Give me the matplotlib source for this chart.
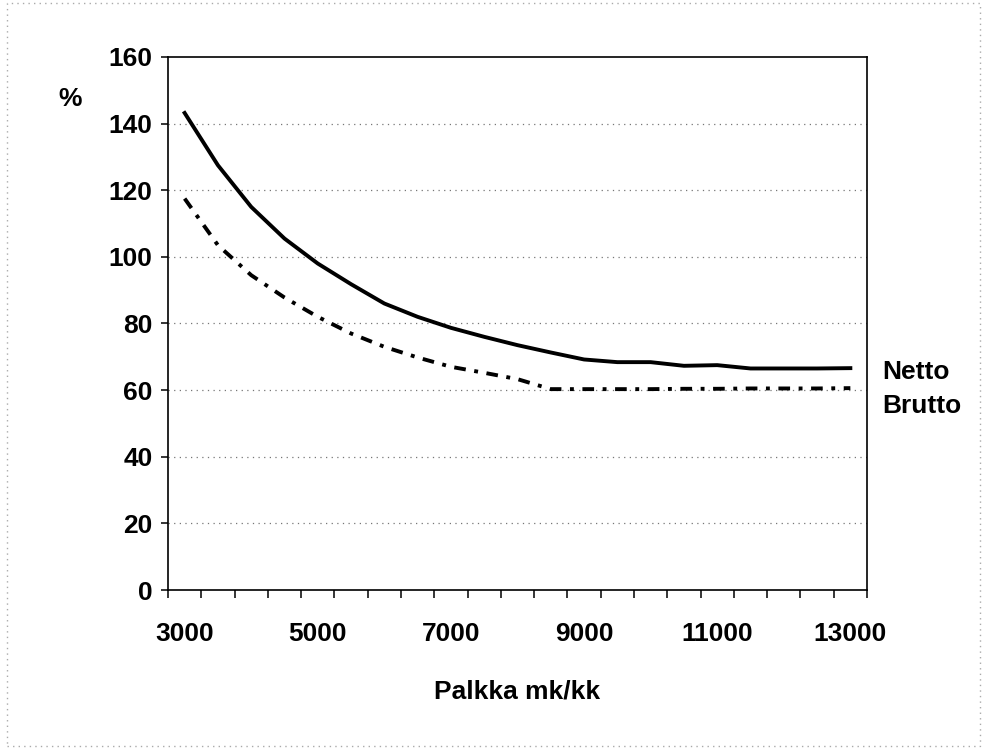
import matplotlib
matplotlib.use("Agg")
import matplotlib.pyplot as plt
from matplotlib.patches import Rectangle

# ===== DATA =====
palkka = [3000, 3500, 4000, 4500, 5000, 5500, 6000, 6500, 7000, 7500, 8000,
          8500, 9000, 9500, 10000, 10500, 11000, 11500, 12000, 12500, 13000]
netto = [143.2, 127.5, 115.0, 105.5, 98.0, 91.8, 86.0, 82.0, 78.7, 76.0, 73.5,
         71.3, 69.2, 68.4, 68.4, 67.3, 67.5, 66.5, 66.5, 66.5, 66.6]
brutto = [117.5, 103.5, 94.5, 87.8, 82.0, 77.0, 73.0, 69.8, 67.0, 65.2, 63.3,
          60.3, 60.3, 60.3, 60.3, 60.4, 60.4, 60.5, 60.5, 60.5, 60.6]
x_labels = [3000, 5000, 7000, 9000, 11000, 13000]
y_ticks = [0, 20, 40, 60, 80, 100, 120, 140, 160]

plt.rcParams['font.family'] = ['Liberation Sans', 'DejaVu Sans']
plt.rcParams['font.weight'] = 'bold'
FS = 19

fig = plt.figure(figsize=(9.84, 7.52), dpi=100)
ax = fig.add_axes([168 / 984, 1 - 590 / 752, 699 / 984, 533 / 752])

# category axis: each salary step is one slot of width 500
step = 500
ax.set_xlim(palkka[0] - step / 2, palkka[-1] + step / 2)
ax.set_ylim(0, 160)

ax.plot(palkka, netto, color='black', lw=2.8, solid_joinstyle='round', zorder=3)
ax.plot(palkka, brutto, color='black', lw=2.8, linestyle=(0, (3, 2.2, 1, 2.2)), zorder=3)

# grid
for v in y_ticks[1:-1]:
    ax.axhline(v, color='#777777', lw=0.9, linestyle=(0, (1, 3.5)), zorder=1)

# tick marks between categories, labels on categories
bounds = [p - step / 2 for p in palkka] + [palkka[-1] + step / 2]
ax.set_xticks(bounds)
ax.set_xticklabels([])
ax.tick_params(axis='x', which='major', direction='out', length=6, width=1.1, color='black')
ax.set_xticks(x_labels, minor=True)
ax.set_xticklabels([str(v) for v in x_labels], minor=True, fontsize=FS, fontweight='bold')
ax.tick_params(axis='x', which='minor', length=0, pad=23)

ax.set_yticks(y_ticks)
ax.set_yticklabels([str(v) for v in y_ticks], fontsize=FS, fontweight='bold')
ax.tick_params(axis='y', direction='out', length=5, width=1.1, pad=6)

for s in ax.spines.values():
    s.set_color('black')
    s.set_linewidth(1.2)

ax.set_xlabel('Palkka mk/kk', fontsize=FS, fontweight='bold', labelpad=24)
fig.text(70 / 984, 1 - 99 / 752, '%', fontsize=FS, fontweight='bold', ha='center', va='center')
fig.text(882 / 984, 1 - 372 / 752, 'Netto', fontsize=FS, fontweight='bold', ha='left', va='center')
fig.text(882 / 984, 1 - 406 / 752, 'Brutto', fontsize=FS, fontweight='bold', ha='left', va='center')

# dotted frame around the figure
fig.patches.append(Rectangle((7 / 984, 6 / 752), 973 / 984, 743 / 752, transform=fig.transFigure,
                             fill=False, edgecolor='#aaaaaa', lw=1, linestyle=(0, (1, 3))))

fig.savefig('out.png', dpi=100)
